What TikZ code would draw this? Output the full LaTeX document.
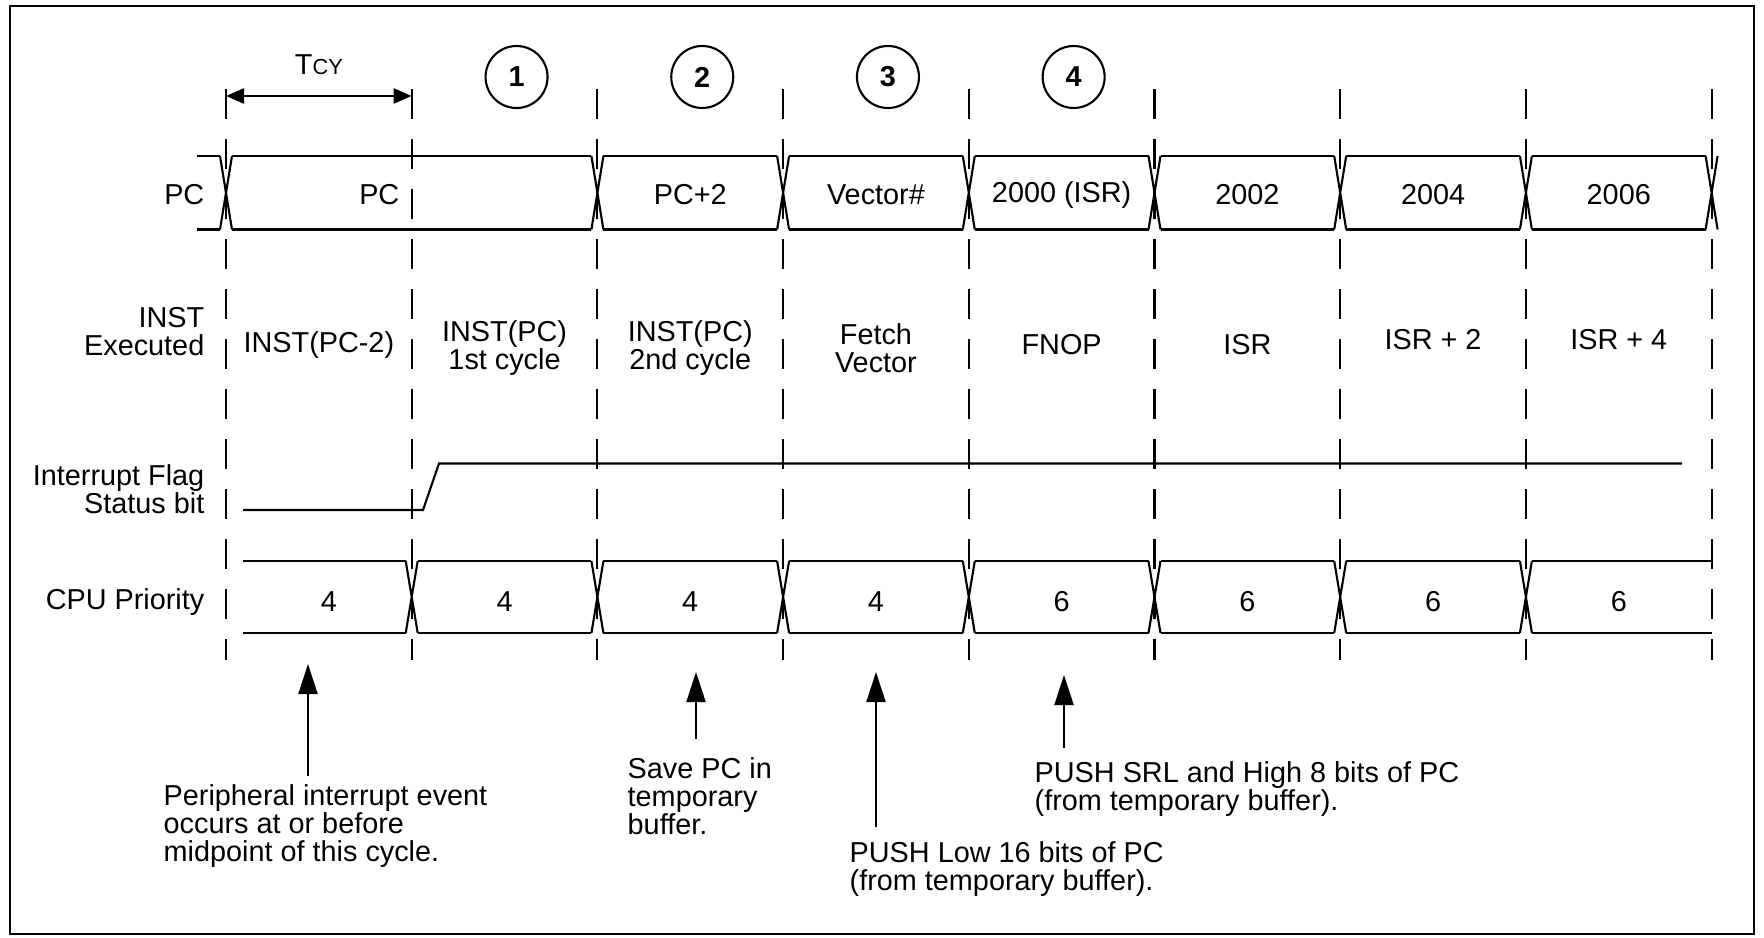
\documentclass[tikz,border=0pt]{standalone}
\usepackage{fontspec}
\setmainfont{Liberation Sans}
\usetikzlibrary{arrows.meta}

\begin{document}
\begin{tikzpicture}[
  font=\fontsize{8.2}{8.0}\selectfont,
  sig/.style={line width=0.6pt},
  cyc/.style={line width=0.6pt, dash pattern=on 0.3cm off 0.2cm},
  lbl/.style={anchor=east, align=right, inner sep=0pt},
  val/.style={align=center, inner sep=0pt},
  note/.style={anchor=north west, align=left, inner sep=0pt},
  num/.style={draw, circle, line width=0.6pt, minimum size=0.62cm, inner sep=0pt, font=\fontsize{8.2}{8}\bfseries},
  tip/.style={-{Triangle[length=3mm,width=1.9mm]}, line width=0.6pt},
  dim/.style={{Triangle[length=1.8mm,width=1.5mm]}-{Triangle[length=1.8mm,width=1.5mm]}, line width=0.6pt}
]
\def\xo{2.26}
\def\cw{1.857}
\def\h{0.06}
\useasboundingbox (0,0) rectangle (17.64,9.37);
\draw[line width=0.8pt] (0.10,0.03) rectangle (17.54,9.31);

% cycle boundaries
\foreach \k in {0,...,8}
  \draw[cyc] ({\xo+\cw*\k},8.48) -- ({\xo+\cw*\k},2.77);

% Tcy and step numbers
\node (tcy) at ({\xo+\cw*0.5},8.72) {T{\fontsize{6.2}{6.2}\selectfont CY}};
\coordinate (tcyl) at (\xo,8.41);
\coordinate (tcyr) at ({\xo+\cw},8.41);
\draw[dim] (tcyl) -- (tcyr);
\foreach \i in {1,2,3,4}
  \node[num] (step\i) at ({\xo+\cw*(\i+0.5)+0.12},8.60) {\i};

% row labels
\node[lbl] (lblpc) at (2.05,7.42) {PC};
\node[lbl] (lblinst) at (2.05,6.05) {INST\\Executed};
\node[lbl] (lblflag) at (2.05,4.48) {Interrupt Flag\\Status bit};
\node[lbl] (lblcpu) at (2.05,3.35) {CPU Priority};

% PC bus
\draw[sig] (1.97,7.81) -- ({\xo-\h},7.81) (1.97,7.075) -- ({\xo-\h},7.075);
\foreach \k in {0,2,3,4,5,6,7,8}
  \draw[sig] ({\xo+\cw*\k-\h},7.81) -- ({\xo+\cw*\k+\h},7.075)
             ({\xo+\cw*\k-\h},7.075) -- ({\xo+\cw*\k+\h},7.81);
\foreach \a/\b in {0/2,2/3,3/4,4/5,5/6,6/7,7/8}
  \draw[sig] ({\xo+\cw*\a+\h},7.81) -- ({\xo+\cw*\b-\h},7.81)
             ({\xo+\cw*\a+\h},7.075) -- ({\xo+\cw*\b-\h},7.075);
\node[val, anchor=east] (pc0) at (4.00,7.42) {PC};
\foreach \t [count=\i from 2] in {PC+2,Vector\#,2000 (ISR),2002,2004,2006}
  \node[val] (pc\i) at ({\xo+\cw*(\i+0.5)},7.42) {\t};

% executed instructions
\foreach \t/\y [count=\i from 0] in {INST(PC-2)/5.92, {INST(PC)\\1st cycle}/5.89,
    {INST(PC)\\2nd cycle}/5.89, {Fetch\\Vector}/5.89, FNOP/5.92, ISR/5.92,
    ISR + 2/5.97, ISR + 4/5.97}
  \node[val] (inst\i) at ({\xo+\cw*(\i+0.5)},\y) {\t};

% interrupt flag
\draw[sig] (2.43,4.27) -- (4.23,4.27) -- (4.39,4.735) -- (16.82,4.735);

% CPU priority bus
\draw[sig] (2.43,3.76) -- ({\xo+\cw-\h},3.76) (2.43,3.04) -- ({\xo+\cw-\h},3.04);
\foreach \k in {1,...,7}
  \draw[sig] ({\xo+\cw*\k-\h},3.76) -- ({\xo+\cw*\k+\h},3.04)
             ({\xo+\cw*\k-\h},3.04) -- ({\xo+\cw*\k+\h},3.76);
\foreach \a/\b in {1/2,2/3,3/4,4/5,5/6,6/7}
  \draw[sig] ({\xo+\cw*\a+\h},3.76) -- ({\xo+\cw*\b-\h},3.76)
             ({\xo+\cw*\a+\h},3.04) -- ({\xo+\cw*\b-\h},3.04);
\draw[sig] ({\xo+\cw*7+\h},3.76) -- ({\xo+\cw*8},3.76) ({\xo+\cw*7+\h},3.04) -- ({\xo+\cw*8},3.04);
\node[val] (cpu0) at (3.29,3.35) {4};
\foreach \t [count=\i from 1] in {4,4,4,6,6,6,6}
  \node[val] (cpu\i) at ({\xo+\cw*(\i+0.5)},3.35) {\t};

% notes
\node[note] (note1) at (1.63,1.53) {Peripheral interrupt event\\occurs at or before\\midpoint of this cycle.};
\node[note] (note2) at (6.27,1.80) {Save PC in\\temporary\\buffer.};
\node[note] (note3) at (8.49,0.96) {PUSH Low 16 bits of PC\\(from temporary buffer).};
\node[note] (note4) at (10.34,1.76) {PUSH SRL and High 8 bits of PC\\(from temporary buffer).};
\foreach \n/\x/\y/\g in {1/3.08/2.73/0.08, 2/6.96/2.65/0.18, 3/8.76/2.65/0.14, 4/10.64/2.62/0.13} {
  \coordinate (arr\n) at (\x,\y);
  \draw[tip] (note\n.north -| arr\n) ++(0,\g) -- (arr\n);
}
\end{tikzpicture}
\end{document}
